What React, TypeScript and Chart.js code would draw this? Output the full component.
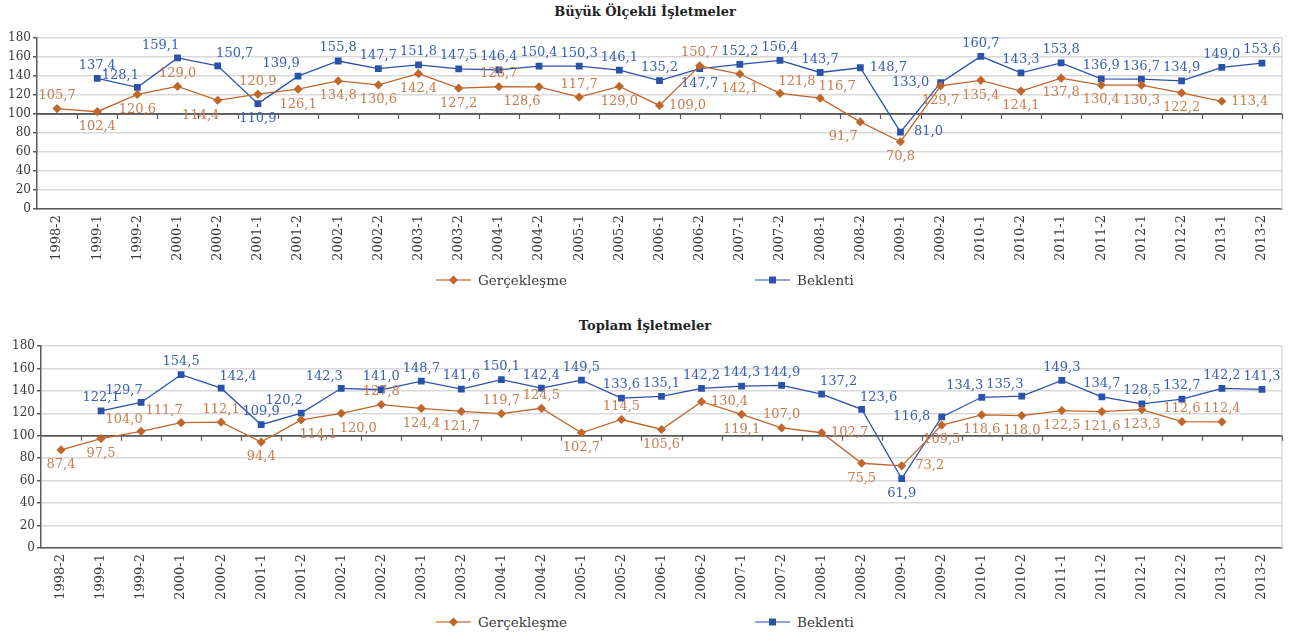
import React, { useEffect, useRef } from 'react';
import { Chart, registerables } from 'chart.js';

Chart.register(...registerables);

const categories = [
  '1998-2', '1999-1', '1999-2', '2000-1', '2000-2', '2001-1', '2001-2', '2002-1',
  '2002-2', '2003-1', '2003-2', '2004-1', '2004-2', '2005-1', '2005-2', '2006-1',
  '2006-2', '2007-1', '2007-2', '2008-1', '2008-2', '2009-1', '2009-2', '2010-1',
  '2010-2', '2011-1', '2011-2', '2012-1', '2012-2', '2013-1', '2013-2',
];

const yTicksMin = 0;
const yTicksMax = 180;
const yTicksStep = 20;
const referenceValue = 100;

// Büyük Ölçekli İşletmeler
const bigActual = [
  105.7, 102.4, 120.6, 129.0, 114.4, 120.9, 126.1, 134.8, 130.6, 142.4, 127.2, 128.7,
  128.6, 117.7, 129.0, 109.0, 150.7, 142.1, 121.8, 116.7, 91.7, 70.8, 129.7, 135.4,
  124.1, 137.8, 130.4, 130.3, 122.2, 113.4, null,
];
const bigExpected = [
  null, 137.4, 128.1, 159.1, 150.7, 110.9, 139.9, 155.8, 147.7, 151.8, 147.5, 146.4,
  150.4, 150.3, 146.1, 135.2, 147.7, 152.2, 156.4, 143.7, 148.7, 81.0, 133.0, 160.7,
  143.3, 153.8, 136.9, 136.7, 134.9, 149.0, 153.6,
];

// Toplam İşletmeler
const totalActual = [
  87.4, 97.5, 104.0, 111.7, 112.1, 94.4, 114.1, 120.0, 127.8, 124.4, 121.7, 119.7,
  124.5, 102.7, 114.5, 105.6, 130.4, 119.1, 107.0, 102.7, 75.5, 73.2, 109.5, 118.6,
  118.0, 122.5, 121.6, 123.3, 112.6, 112.4, null,
];
const totalExpected = [
  null, 122.1, 129.7, 154.5, 142.4, 109.9, 120.2, 142.3, 141.0, 148.7, 141.6, 150.1,
  142.4, 149.5, 133.6, 135.1, 142.2, 144.3, 144.9, 137.2, 123.6, 61.9, 116.8, 134.3,
  135.3, 149.3, 134.7, 128.5, 132.7, 142.2, 141.3,
];

// label placement codes (a above, b below, l left, r right, combos)
const bigActualPos = [
  'a', 'b', 'b', 'a', 'bl', 'a', 'b', 'b', 'b', 'b', 'b', 'a', 'bl', 'a', 'b', 'r',
  'a', 'b', 'ar', 'ar', 'bl', 'b', 'b', 'b', 'b', 'b', 'b', 'b', 'b', 'r', 'a',
];
const bigExpectedPos = [
  'a', 'a', 'al', 'al', 'ar', 'b', 'al', 'a', 'a', 'a', 'a', 'a', 'a', 'a', 'a', 'a',
  'b', 'a', 'a', 'a', 'r', 'r', 'l', 'a', 'a', 'a', 'a', 'a', 'a', 'a', 'a',
];
const totalActualPos = [
  'b', 'b', 'al', 'al', 'a', 'b', 'br', 'br', 'a', 'b', 'b', 'a', 'a', 'b', 'a', 'b',
  'r', 'b', 'a', 'r', 'b', 'r', 'b', 'b', 'b', 'b', 'b', 'b', 'a', 'a', 'a',
];
const totalExpectedPos = [
  'a', 'a', 'al', 'a', 'ar', 'a', 'al', 'al', 'a', 'a', 'a', 'a', 'a', 'a', 'a', 'a',
  'a', 'a', 'a', 'ar', 'ar', 'b', 'l', 'al', 'al', 'a', 'a', 'a', 'a', 'a', 'a',
];

const seriesNames = ['Gerçekleşme', 'Beklenti'];
const chartTitles = ['Büyük Ölçekli İşletmeler', 'Toplam İşletmeler'];

const SERIF = '"DejaVu Serif", "Liberation Serif", serif';
const ORANGE = '#c0662b';
const ORANGE_TEXT = '#c77d4f';
const ORANGE_LEGEND = '#dca37f';
const BLUE = '#2a52aa';
const BLUE_TEXT = '#3a60b4';
const BLUE_LEGEND = '#8ea2d6';
const AXIS = '#5a5a5a';
const GRID = '#d9d9d9';
const TEXT = '#3a3a3a';

const OFF: Record<string, [number, number]> = {
  a: [0, -13],
  b: [0, 15],
  l: [-30, 0],
  r: [28, 0],
  al: [-17, -12],
  ar: [17, -12],
  bl: [-17, 15],
  br: [17, 15],
};

const fmt = (v: number) => v.toFixed(1).replace('.', ',');

const refTicksPlugin = {
  id: 'refTicks',
  beforeDatasetsDraw(chart: any) {
    const { ctx, chartArea, scales } = chart;
    const x = scales.x;
    const y = scales.y;
    const yy = y.getPixelForValue(referenceValue);
    const half = (x.getPixelForValue(1) - x.getPixelForValue(0)) / 2;
    ctx.save();
    ctx.strokeStyle = GRID;
    ctx.lineWidth = 1.5;
    ctx.beginPath();
    ctx.moveTo(chartArea.right, chartArea.top);
    ctx.lineTo(chartArea.right, chartArea.bottom);
    ctx.stroke();
    ctx.strokeStyle = AXIS;
    ctx.lineWidth = 1.5;
    ctx.beginPath();
    ctx.moveTo(chartArea.left, yy);
    ctx.lineTo(chartArea.right, yy);
    ctx.stroke();
    ctx.lineWidth = 1.2;
    ctx.beginPath();
    for (let i = 0; i < categories.length; i++) {
      const xx = Math.round(x.getPixelForValue(i) + half) + 0.5;
      ctx.moveTo(xx, yy);
      ctx.lineTo(xx, yy + 5);
    }
    ctx.stroke();
    ctx.restore();
  },
};

const dataLabelPlugin = {
  id: 'dataLabels',
  afterDatasetsDraw(chart: any) {
    const { ctx } = chart;
    ctx.save();
    ctx.font = `13px ${SERIF}`;
    ctx.textAlign = 'center';
    ctx.textBaseline = 'middle';
    chart.data.datasets.forEach((ds: any, di: number) => {
      const meta = chart.getDatasetMeta(di);
      ctx.fillStyle = ds.labelColor;
      meta.data.forEach((pt: any, i: number) => {
        const v = ds.data[i];
        if (v === null || v === undefined) return;
        const [dx, dy] = OFF[ds.labelPos[i]] || OFF.a;
        ctx.fillText(fmt(v), pt.x + dx, pt.y + dy);
      });
    });
    ctx.restore();
  },
};

type PanelProps = {
  top: number;
  height: number;
  yAxisWidth: number;
  xAxisHeight: number;
  actual: (number | null)[];
  expected: (number | null)[];
  actualPos: string[];
  expectedPos: string[];
};

function Panel(props: PanelProps) {
  const ref = useRef<HTMLCanvasElement>(null);
  useEffect(() => {
    const chart = new Chart(ref.current as HTMLCanvasElement, {
      type: 'line',
      data: {
        labels: categories,
        datasets: [
          {
            label: seriesNames[0],
            data: props.actual,
            borderColor: ORANGE,
            backgroundColor: ORANGE,
            borderWidth: 1.3,
            pointStyle: 'rectRot',
            pointRadius: 4.6,
            pointBorderWidth: 0,
            pointBackgroundColor: ORANGE,
            tension: 0,
            labelPos: props.actualPos,
            labelColor: ORANGE_TEXT,
          } as any,
          {
            label: seriesNames[1],
            data: props.expected,
            borderColor: BLUE,
            backgroundColor: BLUE,
            borderWidth: 1.3,
            pointStyle: 'rect',
            pointRadius: 4.8,
            pointBorderWidth: 0,
            pointBackgroundColor: BLUE,
            tension: 0,
            labelPos: props.expectedPos,
            labelColor: BLUE_TEXT,
          } as any,
        ],
      },
      options: {
        animation: false,
        responsive: false,
        events: [],
        layout: { padding: { top: 10, right: 18, left: 0, bottom: 0 } },
        plugins: {
          legend: { display: false },
          title: { display: false },
          tooltip: { enabled: false },
        },
        scales: {
          x: {
            offset: true,
            grid: { display: true, drawOnChartArea: false, drawTicks: false },
            border: { display: true, color: AXIS, width: 1.5 },
            ticks: {
              autoSkip: false,
              maxRotation: 90,
              minRotation: 90,
              padding: 6,
              color: TEXT,
              font: { family: SERIF, size: 13 },
            },
            afterFit: (s: any) => {
              s.height = props.xAxisHeight;
            },
          },
          y: {
            min: yTicksMin,
            max: yTicksMax,
            ticks: {
              stepSize: yTicksStep,
              autoSkip: false,
              padding: 2,
              color: TEXT,
              font: { family: SERIF, size: 12 },
            },
            grid: {
              color: (c: any) => (c.tick && c.tick.value === referenceValue ? AXIS : GRID),
              lineWidth: 1.5,
              tickColor: AXIS,
              tickLength: 4,
              drawTicks: true,
            },
            border: { display: true, color: AXIS, width: 1.5 },
            afterFit: (s: any) => {
              s.width = props.yAxisWidth;
            },
          },
        },
      } as any,
      plugins: [refTicksPlugin, dataLabelPlugin],
    });
    return () => chart.destroy();
  }, []);
  return (
    <canvas
      ref={ref}
      width={1300}
      height={props.height}
      style={{ position: 'absolute', left: 0, top: props.top, width: 1300, height: props.height, display: 'block' }}
    />
  );
}

function Title({ text, top }: { text: string; top: number }) {
  return (
    <div
      style={{
        position: 'absolute',
        left: 0,
        width: 1290,
        top,
        textAlign: 'center',
        fontFamily: SERIF,
        fontWeight: 'bold',
        fontSize: 13,
        lineHeight: '18px',
        color: '#222',
      }}
    >
      {text}
    </div>
  );
}

function Legend({ top }: { top: number }) {
  const item = (left: number, name: string, line: string, fill: string, diamond: boolean) => (
    <div
      style={{
        position: 'absolute',
        left,
        top: top - 10,
        height: 20,
        display: 'flex',
        alignItems: 'center',
        whiteSpace: 'nowrap',
      }}
    >
      <svg width={35} height={12} style={{ display: 'block' }}>
        <line x1={0} y1={6} x2={35} y2={6} stroke={line} strokeWidth={2} />
        {diamond ? (
          <polygon points="17.5,1.5 22,6 17.5,10.5 13,6" fill={fill} />
        ) : (
          <rect x={14} y={2.5} width={7} height={7} fill={fill} />
        )}
      </svg>
      <span
        style={{
          marginLeft: 7,
          fontFamily: SERIF,
          fontSize: 13.5,
          color: TEXT,
          lineHeight: '20px',
        }}
      >
        {name}
      </span>
    </div>
  );
  return (
    <>
      {item(436, seriesNames[0], ORANGE_LEGEND, ORANGE, true)}
      {item(755, seriesNames[1], BLUE_LEGEND, BLUE, false)}
    </>
  );
}

export default function App() {
  return (
    <div
      style={{
        position: 'absolute',
        left: 0,
        top: 0,
        width: 1300,
        height: 639,
        background: '#fff',
        overflow: 'hidden',
      }}
    >
      <Title text={chartTitles[0]} top={3} />
      <Panel
        top={28}
        height={245}
        yAxisWidth={37}
        xAxisHeight={64}
        actual={bigActual}
        expected={bigExpected}
        actualPos={bigActualPos}
        expectedPos={bigExpectedPos}
      />
      <Legend top={280} />
      <Title text={chartTitles[1]} top={317} />
      <Panel
        top={336}
        height={276}
        yAxisWidth={41}
        xAxisHeight={64}
        actual={totalActual}
        expected={totalExpected}
        actualPos={totalActualPos}
        expectedPos={totalExpectedPos}
      />
      <Legend top={622} />
    </div>
  );
}
